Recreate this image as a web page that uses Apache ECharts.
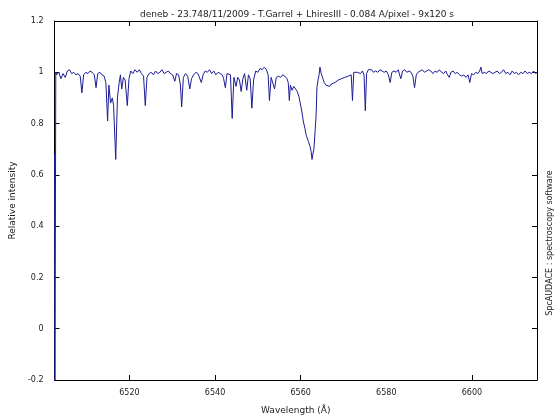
<!DOCTYPE html>
<html>
<head>
<meta charset="utf-8">
<script src="https://cdn.jsdelivr.net/npm/echarts@6/dist/echarts.min.js"></script>
<style>html,body{margin:0;padding:0;background:#fff}#c{width:560px;height:420px}</style>
</head>
<body>
<div id="c"></div>
<script>
var titleText = 'deneb - 23.748/11/2009 - T.Garrel + LhiresIII - 0.084 A/pixel - 9x120 s';
var xName = 'Wavelength (Å)';
var yName = 'Relative intensity';
var sideText = 'SpcAUDACE : spectroscopy software';
var xTickLabels = [6520, 6540, 6560, 6580, 6600];
var xTickMarks = [6520, 6540, 6560, 6600];
var wavelength = [
6502.5,6502.6,6502.8,6503.0,6503.5,6504.0,6504.5,6505.0,6505.5,6506.0,6506.5,6507.0,6507.5,6508.0,6508.5,6508.9,6509.3,6509.8,6510.3,6510.8,
6511.3,6511.8,6512.2,6512.6,6513.1,6513.6,6514.1,6514.5,6514.9,6515.2,6515.6,6516.0,6516.3,6516.8,6517.2,6517.6,6517.9,6518.2,6518.6,6519.0,
6519.5,6519.9,6520.3,6520.8,6521.3,6521.8,6522.3,6522.8,6523.3,6523.7,6524.1,6524.6,6525.1,6525.6,6526.1,6526.6,6527.1,6527.6,6528.1,6528.6,
6529.1,6529.6,6530.1,6530.6,6531.0,6531.5,6531.9,6532.2,6532.6,6533.1,6533.6,6534.1,6534.5,6535.0,6535.5,6536.0,6536.4,6536.8,6537.2,6537.7,
6538.2,6538.7,6539.2,6539.7,6540.2,6540.7,6541.2,6541.7,6542.0,6542.4,6542.8,6543.2,6543.6,6544.0,6544.4,6544.9,6545.3,6545.7,6546.1,6546.5,
6546.9,6547.4,6547.8,6548.2,6548.6,6549.0,6549.5,6550.0,6550.5,6551.0,6551.5,6552.0,6552.4,6552.7,6553.1,6553.5,6553.9,6554.3,6554.8,6555.3,
6555.8,6556.3,6556.8,6557.1,6557.35,6557.6,6558.0,6558.4,6558.8,6559.2,6559.6,6559.9,6560.3,6560.6,6561.0,6561.3,6561.8,6562.2,6562.45,6562.65,
6562.9,6563.1,6563.4,6563.6,6563.8,6564.05,6564.3,6564.5,6564.8,6565.2,6565.5,6565.9,6566.3,6566.8,6567.2,6567.6,6568.0,6568.4,6568.8,6569.1,
6569.5,6569.9,6570.3,6570.7,6571.1,6571.4,6571.8,6572.1,6572.4,6572.8,6573.2,6573.6,6574.0,6574.4,6574.8,6575.1,6575.4,6575.8,6576.2,6576.6,
6577.0,6577.5,6578.0,6578.5,6579.0,6579.5,6580.0,6580.5,6580.9,6581.3,6581.8,6582.3,6582.8,6583.1,6583.4,6583.8,6584.3,6584.8,6585.3,6585.8,
6586.2,6586.6,6587.0,6587.4,6587.9,6588.4,6588.9,6589.4,6589.9,6590.4,6590.9,6591.4,6591.9,6592.4,6592.9,6593.4,6593.9,6594.3,6594.7,6595.1,
6595.6,6596.1,6596.6,6597.1,6597.6,6598.1,6598.6,6599.1,6599.5,6599.9,6600.4,6600.9,6601.4,6601.8,6602.1,6602.4,6602.9,6603.4,6603.9,6604.4,
6604.9,6605.4,6605.9,6606.4,6606.9,6607.4,6607.9,6608.4,6608.9,6609.4,6609.9,6610.4,6610.9,6611.4,6611.9,6612.4,6612.9,6613.4,6613.9,6614.4,
6614.9,6615.2
];
var intensity = [
0.68,-0.25,1.0,0.99,1.0,0.975,0.995,0.98,1.005,1.01,0.995,1.0,0.99,0.995,0.985,0.92,0.99,1.0,0.995,1.005,
1.0,0.99,0.94,0.995,1.0,0.99,0.985,0.96,0.81,0.95,0.88,0.9,0.87,0.66,0.9,0.96,0.99,0.935,0.98,0.97,
0.87,0.975,1.005,0.995,1.01,1.0,1.01,0.995,0.985,0.87,0.98,0.995,1.0,0.99,1.005,0.995,1.0,1.01,0.995,1.0,
1.005,0.995,0.99,0.965,0.995,0.99,0.95,0.865,0.98,0.995,0.985,0.935,0.975,0.99,1.0,0.995,0.99,0.96,0.99,1.005,
1.0,1.01,0.995,1.005,0.99,1.0,0.995,0.99,0.975,0.94,0.995,1.0,0.99,0.82,0.98,0.945,0.98,0.97,0.925,0.975,
0.995,0.93,0.99,0.975,0.86,0.97,1.005,1.0,1.015,1.01,1.02,1.01,0.99,0.89,0.98,0.985,0.935,0.98,0.985,0.98,
0.99,0.985,0.975,0.96,0.89,0.95,0.93,0.945,0.935,0.925,0.905,0.88,0.845,0.81,0.78,0.755,0.73,0.71,0.69,0.66,
0.685,0.70,0.78,0.83,0.94,0.97,0.99,1.02,0.995,0.975,0.96,0.95,0.955,0.945,0.955,0.95,0.96,0.955,0.97,0.965,
0.975,0.97,0.98,0.975,0.985,0.985,0.99,0.89,1.0,1.005,1.0,1.005,0.995,1.005,0.99,0.85,0.995,1.01,1.005,1.01,
1.0,1.005,1.0,1.01,1.005,1.0,1.005,0.99,0.96,1.0,1.005,1.0,1.01,0.99,0.975,1.005,1.01,1.0,1.005,1.0,
0.985,0.94,0.99,1.0,1.005,1.01,1.0,1.005,1.01,1.005,0.995,1.005,1.0,1.01,1.0,0.995,1.005,0.99,0.98,1.0,
1.005,0.995,1.0,0.99,0.985,0.99,0.98,0.99,0.96,0.995,0.99,1.0,0.995,1.005,1.02,0.995,1.0,0.995,1.005,1.0,
0.995,1.0,1.005,0.995,1.0,1.01,0.995,1.0,0.99,1.005,0.995,1.0,0.99,1.0,0.995,1.005,0.995,1.0,0.995,1.005,
0.995,1.0
];

var pts = wavelength.map(function (w, i) { return [w, intensity[i]]; });
var font = 'DejaVu Sans';
var chart = echarts.init(document.getElementById('c'), null, {renderer: 'canvas'});
chart.setOption({
  animation: false,
  backgroundColor: '#ffffff',
  title: {
    text: titleText, left: 292, top: 5, textAlign: 'center',
    textStyle: {fontFamily: font, fontSize: 9, fontWeight: 'normal', color: '#222'}
  },
  grid: {left: 48, right: 23, top: 21, bottom: 35},
  xAxis: [{
    type: 'value', min: 6502.5, max: 6615.2, position: 'bottom',
    name: xName, nameLocation: 'middle', nameGap: 26,
    nameTextStyle: {fontFamily: font, fontSize: 9, color: '#222'},
    axisLine: {show: true, onZero: false, lineStyle: {color: '#000', width: 1}},
    axisTick: {show: true, inside: true, length: 5, customValues: xTickMarks, lineStyle: {color: '#000'}},
    axisLabel: {show: true, customValues: xTickLabels, margin: 9, fontFamily: font, fontSize: 8, color: '#222',
      formatter: function (v) { return String(v); }},
    splitLine: {show: false}
  }, {
    type: 'value', min: 6502.5, max: 6615.2, position: 'top',
    axisLine: {show: true, onZero: false, lineStyle: {color: '#000', width: 1}},
    axisTick: {show: true, inside: true, length: 5, customValues: xTickMarks, lineStyle: {color: '#000'}},
    axisLabel: {show: false},
    splitLine: {show: false}
  }],
  yAxis: [{
    type: 'value', min: -0.2, max: 1.2, interval: 0.2, position: 'left',
    name: yName, nameLocation: 'middle', nameGap: 33,
    nameTextStyle: {fontFamily: font, fontSize: 9, color: '#222'},
    axisLine: {show: true, onZero: false, lineStyle: {color: '#000', width: 1}},
    axisTick: {show: true, inside: true, length: 5, lineStyle: {color: '#000'}},
    axisLabel: {margin: 11, fontFamily: font, fontSize: 8, color: '#222'},
    splitLine: {show: false}
  }, {
    type: 'value', min: -0.2, max: 1.2, interval: 0.2, position: 'right',
    axisLine: {show: true, onZero: false, lineStyle: {color: '#000', width: 1}},
    axisTick: {show: true, inside: true, length: 5, lineStyle: {color: '#000'}},
    axisLabel: {show: false},
    splitLine: {show: false}
  }],
  graphic: [{
    type: 'text', x: 550, y: 243, rotation: Math.PI / 2,
    style: {text: sideText, fontFamily: font, fontSize: 8, fill: '#222', textAlign: 'center', textVerticalAlign: 'middle'}
  }],
  series: [{
    type: 'line', data: pts, xAxisIndex: 0, yAxisIndex: 0,
    showSymbol: false, symbol: 'none', clip: true,
    lineStyle: {color: '#1c1c96', width: 1}
  }]
});
</script>
</body>
</html>
